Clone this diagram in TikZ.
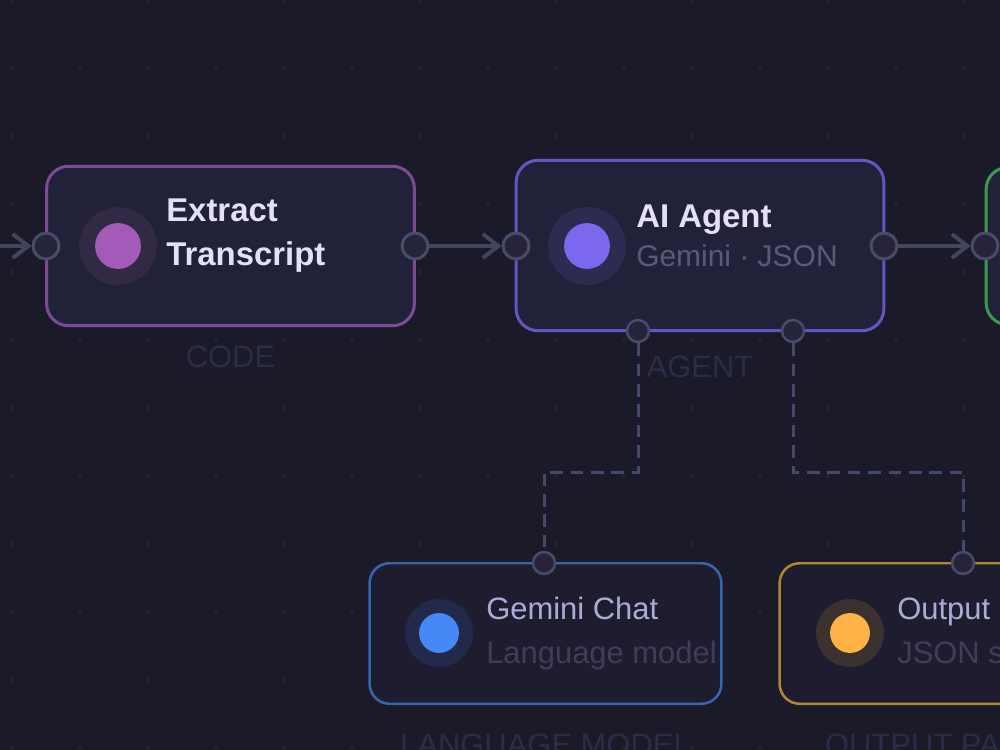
\documentclass[tikz,border=0pt]{standalone}
\usepackage{fontspec}
\setmainfont{Liberation Sans}
\usepackage{tikz}
\usetikzlibrary{arrows.meta,positioning,calc}
\usepackage{xcolor}
\definecolor{bg}{HTML}{1B1A29}
\definecolor{grid}{HTML}{29283D}
\definecolor{cardfill}{HTML}{22213A}
\definecolor{subfill}{HTML}{1E1D30}
\definecolor{portfill}{HTML}{25243A}
\definecolor{portedge}{HTML}{4B4A68}
\definecolor{wire}{HTML}{45445F}
\definecolor{toolwire}{HTML}{48466A}
\definecolor{tag}{HTML}{2D2C47}
\definecolor{ttl}{HTML}{E4E0FA}
\definecolor{subttl}{HTML}{5B5977}
\definecolor{lowttl}{HTML}{AEAAD6}
\definecolor{lowsub}{HTML}{3F3D5A}
\definecolor{codeC}{HTML}{7D4B93}
\definecolor{codeD}{HTML}{A45AB9}
\definecolor{codeH}{HTML}{322944}
\definecolor{agentC}{HTML}{6555C4}
\definecolor{agentD}{HTML}{7B68EE}
\definecolor{agentH}{HTML}{2E2B50}
\definecolor{sendC}{HTML}{3A9A50}
\definecolor{chatC}{HTML}{3766B0}
\definecolor{chatD}{HTML}{4489F5}
\definecolor{chatH}{HTML}{22294A}
\definecolor{parseC}{HTML}{B08535}
\definecolor{parseD}{HTML}{FFB347}
\definecolor{parseH}{HTML}{3B3230}
\newcommand{\pxu}{0.70866pt}

\begin{document}
\begin{tikzpicture}[x=0.025cm,y=-0.025cm,
  card/.style={rectangle,rounded corners=22*\pxu,fill=cardfill,line width=3*\pxu,minimum width=369*\pxu,inner sep=0pt},
  lowcard/.style={rectangle,rounded corners=20*\pxu,fill=subfill,line width=2.5*\pxu,minimum width=353*\pxu,minimum height=141*\pxu,inner sep=0pt},
  halo/.style={circle,inner sep=0pt,minimum size=78*\pxu},
  lowhalo/.style={circle,inner sep=0pt,minimum size=68*\pxu},
  dot/.style={circle,inner sep=0pt,minimum size=46*\pxu},
  lowdot/.style={circle,inner sep=0pt,minimum size=40*\pxu},
  port/.style={circle,inner sep=0pt,minimum size=26*\pxu,fill=portfill,draw=portedge,line width=3*\pxu},
  smallport/.style={port,minimum size=22*\pxu,line width=2.5*\pxu},
  title/.style={inner sep=0pt,text=ttl,font=\fontsize{23.4pt}{31.2pt}\selectfont\bfseries},
  sub/.style={inner sep=0pt,text=subttl,font=\fontsize{21.3pt}{26pt}\selectfont},
  lowtitle/.style={inner sep=0pt,text=lowttl,font=\fontsize{22pt}{26pt}\selectfont},
  lowsub/.style={inner sep=0pt,text=lowsub,font=\fontsize{22pt}{26pt}\selectfont},
  tagtext/.style={inner sep=0pt,text=tag,font=\fontsize{22pt}{26pt}\selectfont},
  flow/.style={draw=wire,line width=4*\pxu,-{Straight Barb[length=11pt,width=17pt]}},
  tool/.style={draw=toolwire,line width=3*\pxu,dash pattern=on 9pt off 5.5pt}]

  \path[use as bounding box,fill=bg] (0,0) rectangle (1000,750);
  \clip (0,0) rectangle (1000,750);

  % dotted grid
  \foreach \i in {0,...,14}
    \foreach \j in {0,...,11}
      \fill[grid] (12+68*\i,68*\j) circle (1.1pt);

  % main row
  \node[card,draw=codeC,minimum height=160*\pxu] (code) at (230.5,246) {};
  \node[card,draw=agentC,minimum height=171*\pxu] (agent) at (700,245.5) {};
  \node[card,draw=sendC,minimum height=158*\pxu] (send) at (1170,246) {};

  \node[halo,fill=codeH] (codeicon) at (118,246) {};
  \node[dot,fill=codeD] at (codeicon) {};
  \node[halo,fill=agentH] (agenticon) at (587,246) {};
  \node[dot,fill=agentD] at (agenticon) {};

  \node[title,anchor=north west,align=left] (codetitle) at (166,199) {Extract\\Transcript};
  \node[title,anchor=base west] (agenttitle) at (636,227) {AI Agent};
  \node[sub,anchor=base west] (agentsub) at (636,266) {Gemini · JSON};

  \node[tagtext,anchor=base] (codetag) at (230.5,367) {CODE};
  \node[tagtext,anchor=base] (agenttag) at (700,377) {AGENT};

  % sub nodes
  \node[lowcard,draw=chatC] (chat) at (545.5,633.5) {};
  \node[lowcard,draw=parseC] (parse) at (955.5,633.5) {};

  \node[lowhalo,fill=chatH] (chaticon) at (439,633) {};
  \node[lowdot,fill=chatD] at (chaticon) {};
  \node[lowhalo,fill=parseH] (parseicon) at (850,633) {};
  \node[lowdot,fill=parseD] at (parseicon) {};

  \node[lowtitle,anchor=base west] (chattitle) at (486,619) {Gemini Chat};
  \node[lowsub,anchor=base west] (chatsub) at (486,663) {Language model};
  \node[lowtitle,anchor=base west] (parsetitle) at (897,619) {Output Parser};
  \node[lowsub,anchor=base west] (parsesub) at (897,663) {JSON schema};

  \node[tagtext,anchor=base] (chattag) at (545.5,755) {LANGUAGE MODEL};
  \node[tagtext,anchor=base] (parsetag) at (955.5,755) {OUTPUT PARSER};

  % ports
  \node[port] (codein) at (46,246) {};
  \node[port] (codeout) at (415,246) {};
  \node[port] (agentin) at (516,246) {};
  \node[port] (agentout) at (884,246) {};
  \node[port] (sendin) at (985,246) {};
  \node[smallport] (agentmodel) at (638,331) {};
  \node[smallport] (agentparser) at (793,331) {};
  \node[smallport] (chatin) at (544,563) {};
  \node[smallport] (parsein) at (963,563) {};

  % connectors
  \coordinate (wayin) at (-40,246);
  \coordinate (bus) at (0,472);
  \draw[flow] (wayin) -- (codein);
  \draw[flow] (codeout) -- (agentin);
  \draw[flow] (agentout) -- (sendin);
  \draw[tool] (agentmodel) -- (agentmodel |- bus) -| (chatin);
  \draw[tool] (agentparser) -- (agentparser |- bus) -| (parsein);
\end{tikzpicture}
\end{document}
